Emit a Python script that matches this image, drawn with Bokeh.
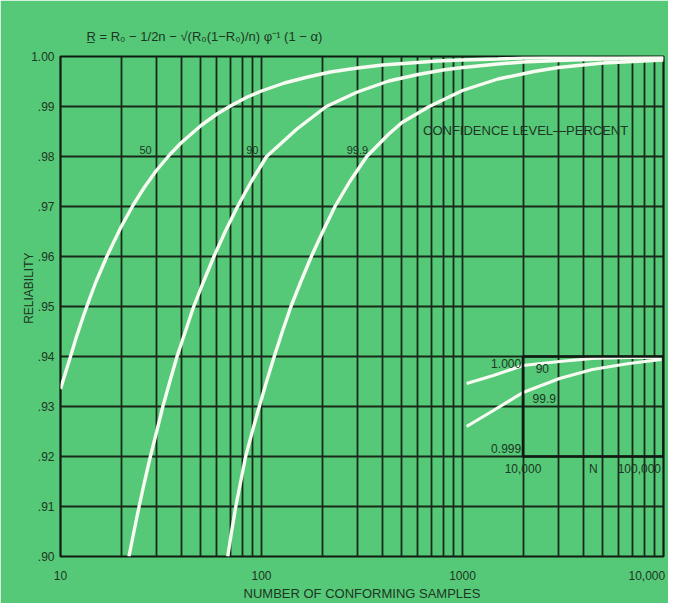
import math
from bokeh.plotting import figure
from bokeh.models import Range1d, LogScale, LinearScale, FixedTicker
from bokeh.embed import file_html
from bokeh.resources import INLINE
from bokeh.core.properties import value

# ---------------- data ----------------
n_50 = [10, 11, 12, 13, 14, 15, 17, 20, 23, 26, 30, 35, 40, 50, 60, 70, 85, 100,
        130, 170, 220, 300, 400, 550, 750, 1000, 1500, 2000, 3000, 5000, 10000]
r_50 = [0.9335, 0.9389, 0.9439, 0.9481, 0.9517, 0.9549, 0.9600, 0.9659, 0.9703,
        0.9737, 0.9772, 0.9804, 0.9828, 0.9862, 0.9885, 0.9901, 0.9919, 0.9931,
        0.9947, 0.9959, 0.9969, 0.9977, 0.9983, 0.9987, 0.9991, 0.9993, 0.9995,
        0.9997, 0.9998, 0.9999, 0.9999]

n_90 = [21.9, 23.2, 24.6, 26.2, 28.0, 30.1, 32.3, 35.0, 38.0, 41.8, 46.0, 51.5,
        58.0, 66.0, 76.0, 89.0, 106, 150, 210, 300, 430, 600, 800, 1000, 1500,
        2000, 3000, 5000, 10000]
r_90 = [0.900, 0.905, 0.910, 0.915, 0.920, 0.925, 0.930, 0.935, 0.940, 0.945,
        0.950, 0.955, 0.960, 0.965, 0.970, 0.975, 0.980, 0.9855, 0.9900, 0.9929,
        0.9951, 0.9964, 0.9973, 0.9978, 0.9985, 0.9989, 0.9992, 0.9995, 0.9997]

n_999 = [67.9, 71.0, 74.5, 78.8, 83.4, 90.0, 97.5, 106, 115.7, 127, 140.1, 157,
         177, 202, 232, 275, 334, 430, 500, 683, 1000, 1500, 2270, 3000, 5000, 10000]
r_999 = [0.900, 0.905, 0.910, 0.915, 0.920, 0.925, 0.930, 0.935, 0.940, 0.945,
         0.950, 0.955, 0.960, 0.965, 0.970, 0.975, 0.980, 0.9845, 0.9868, 0.9900,
         0.9932, 0.9955, 0.9970, 0.9978, 0.9987, 0.9993]

# inset (N from 10,000 to 100,000, R from 0.999 to 1.000)
inset_n_90 = [3970, 6150, 10000, 18200, 31100, 56800, 96800]
inset_r_90 = [0.99973, 0.99981, 0.99991, 0.99995, 0.99998, 0.99999, 0.99999]
inset_n_999 = [3970, 6150, 10000, 18200, 31100, 56800, 96800]
inset_r_999 = [0.99930, 0.99946, 0.99964, 0.99978, 0.99987, 0.99993, 0.99997]
inset_x_bounds = [10000, 100000]
inset_y_bounds = [0.999, 1.000]

x_major_ticks = [10, 100, 1000, 10000]
x_major_labels = ["10", "100", "1000", "10,000"]
y_ticks = [0.90, 0.91, 0.92, 0.93, 0.94, 0.95, 0.96, 0.97, 0.98, 0.99, 1.00]
y_tick_labels = [".90", ".91", ".92", ".93", ".94", ".95", ".96", ".97", ".98", ".99", "1.00"]

FORMULA = "R\u0332 = R\u2080 \u2212 1/2n \u2212 \u221a(R\u2080(1\u2212R\u2080)/n) \u03c6\u207b\u00b9 (1 \u2212 \u03b1)"

GREEN = "#55c977"
GRID = "#18291b"
INK = "#1e3524"
CURVE = "#f7fbf1"
FONT = "Liberation Sans"
NBSP = "\u00a0"

p = figure(x_axis_type="log", x_range=Range1d(10, 10000), y_range=Range1d(0.90, 1.00),
           frame_width=603, frame_height=500,
           min_border_left=60, min_border_right=5, min_border_top=56, min_border_bottom=44,
           output_backend="svg", toolbar_location=None,
           background_fill_color=GREEN, border_fill_color=GREEN)
p.outline_line_color = "#111a12"
p.outline_line_width = 2.2

# formula as the title
p.title.text = FORMULA
p.title.align = "left"
p.title.offset = 26
p.title.standoff = 26
p.title.text_font = FONT
p.title.text_font_size = "13px"
p.title.text_font_style = "normal"
p.title.text_color = INK

# grid
grid_ticks = [k * 10 ** d for d in (1, 2, 3) for k in range(1, 10)] + [10000]
p.xgrid.ticker = FixedTicker(ticks=grid_ticks)
p.ygrid.ticker = FixedTicker(ticks=y_ticks)
for g in (p.xgrid, p.ygrid):
    g.grid_line_color = GRID
    g.grid_line_width = 1.8
    g.grid_line_alpha = 1.0

# axes
xa = p.xaxis[0]
xa.ticker = FixedTicker(ticks=x_major_ticks)
# the last label sits flush with the right frame edge, as in the original
xa.major_label_overrides = {t: (l if t != 10000 else l + NBSP)
                            for t, l in zip(x_major_ticks, x_major_labels)}
ya = p.yaxis[0]
ya.ticker = FixedTicker(ticks=y_ticks)
ya.major_label_overrides = {t: l for t, l in zip(y_ticks, y_tick_labels)}
for ax in (xa, ya):
    ax.axis_line_color = None
    ax.major_tick_line_color = None
    ax.minor_tick_line_color = None
    ax.major_label_text_font = FONT
    ax.major_label_text_font_size = "12px"
    ax.major_label_text_color = INK
    ax.axis_label_text_font = FONT
    ax.axis_label_text_font_style = "normal"
    ax.axis_label_text_color = INK
xa.major_label_standoff = 6
ya.major_label_standoff = 0
xa.axis_label = "NUMBER OF CONFORMING SAMPLES"
xa.axis_label_text_font_size = "13px"
xa.axis_label_standoff = 0
# leading no-break spaces lift the vertical title a little above the middle, as in the original
ya.axis_label = NBSP * 11 + "RELIABILITY"
ya.axis_label_text_font_size = "12px"
ya.axis_label_standoff = -8

# curves
for nn, rr in ((n_50, r_50), (n_90, r_90), (n_999, r_999)):
    p.line(nn, rr, line_color=CURVE, line_width=3.4)

# inset scales
inset_lo = 10 ** (4 - math.log10(2000 / 10) / math.log10(10000 / 2000))
p.extra_x_ranges = {"inset": Range1d(inset_lo, 100000)}
p.extra_x_scales = {"inset": LogScale()}
p.extra_y_ranges = {"inset": Range1d(0.998, 1.003)}
p.extra_y_scales = {"inset": LinearScale()}

p.line(inset_n_90, inset_r_90, x_range_name="inset", y_range_name="inset",
       line_color=CURVE, line_width=3.2)
p.line(inset_n_999, inset_r_999, x_range_name="inset", y_range_name="inset",
       line_color=CURVE, line_width=3.2)
p.quad(left=[inset_x_bounds[0]], right=[inset_x_bounds[1]],
       bottom=[inset_y_bounds[0]], top=[inset_y_bounds[1]],
       x_range_name="inset", y_range_name="inset",
       fill_color=None, line_color="#111a12", line_width=2.6)

def itext(x, y, t, align="left"):
    p.text(x=[x], y=[y], text=[t], x_range_name="inset", y_range_name="inset",
           text_font=value(FONT), text_font_size="12px", text_color=INK,
           text_align=align, text_baseline="middle")

itext(9700, 0.99993, "1.000", "right")
itext(9700, 0.99908, "0.999", "right")
itext(10000, 0.99888, "10,000", "center")
itext(31623, 0.99888, "N", "center")
itext(96000, 0.99888, "100,000", "right")
itext(12300, 0.99988, "90")
itext(11700, 0.99958, "99.9")

# main curve labels
def mtext(x, y, t, align="center", size="12px"):
    p.text(x=[x], y=[y], text=[t], text_font=value(FONT), text_font_size=size,
           text_color=INK, text_align=align, text_baseline="middle")

mtext(26.5, 0.9813, "50", size="11px")
mtext(90, 0.9813, "90", size="11px")
mtext(300, 0.9813, "99.9", size="11px")
mtext(2060, 0.9853, "CONFIDENCE LEVEL\u2014PERCENT", size="13px")

open("out.html", "w").write(file_html(p, INLINE))
